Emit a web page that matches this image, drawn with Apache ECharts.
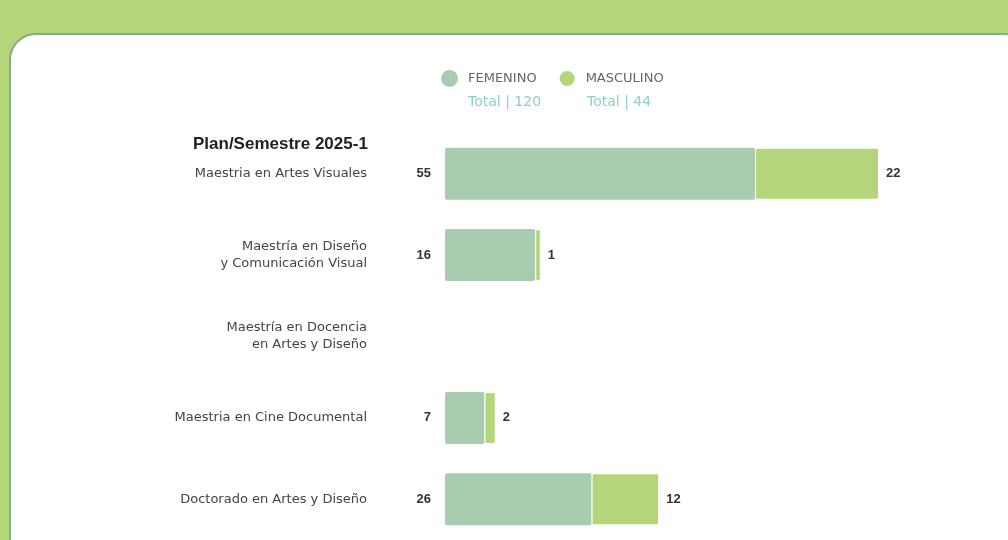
<!DOCTYPE html>
<html>
<head>
<meta charset="utf-8">
<script src="https://cdn.jsdelivr.net/npm/echarts@6/dist/echarts.min.js"></script>
<style>
  * { margin: 0; padding: 0; }
  html, body { width: 1008px; height: 540px; overflow: hidden; }
  #chart { width: 1008px; height: 540px; }
</style>
</head>
<body>
<div id="chart"></div>
<script>
// datos por plan
const planes = [
  'Maestria en Artes Visuales',
  'Maestría en Diseño\ny Comunicación Visual',
  'Maestría en Docencia\nen Artes y Diseño',
  'Maestria en Cine Documental',
  'Doctorado en Artes y Diseño'
]
const femenino = [55, 16, 0, 7, 26]
const masculino = [22, 1, 0, 2, 12]
const seriesNames = ['FEMENINO', 'MASCULINO']
const totales = [120, 44]

const colorFem = '#a9cbb0'
const colorMasc = '#b5d57a'

const chart = echarts.init(document.getElementById('chart'))

const hideZero = p => (p.value ? p.value : '')

chart.setOption({
  backgroundColor: '#b6d47a',
  animation: false,
  graphic: [
    {
      type: 'rect',
      z: -10,
      shape: { x: 10, y: 34, width: 1020, height: 530, r: 26 },
      style: { fill: '#ffffff', stroke: '#7fae86', lineWidth: 2 }
    },
    {
      type: 'text',
      left: 193,
      top: 136,
      style: {
        text: 'Plan/Semestre 2025-1',
        font: 'bold 17px "Liberation Sans", Arial, sans-serif',
        fill: '#222'
      }
    },
    {
      type: 'text',
      left: 468,
      top: 95,
      style: {
        text: 'Total | ' + totales[0],
        font: '14px "DejaVu Sans", sans-serif',
        fill: '#8fd0c4'
      }
    },
    {
      type: 'text',
      left: 587,
      top: 95,
      style: {
        text: 'Total | ' + totales[1],
        font: '14px "DejaVu Sans", sans-serif',
        fill: '#8fd0c4'
      }
    }
  ],
  legend: {
    data: seriesNames,
    left: 436,
    top: 64,
    icon: 'circle',
    itemWidth: 17,
    itemHeight: 17,
    itemGap: 21,
    selectedMode: false,
    textStyle: {
      color: '#666',
      fontFamily: '"DejaVu Sans", sans-serif',
      fontSize: 13,
      padding: [0, 0, 0, 5]
    }
  },
  grid: {
    left: 445,
    top: 133,
    width: 451,
    height: 410
  },
  xAxis: {
    type: 'value',
    min: 0,
    max: 80,
    show: false
  },
  yAxis: {
    type: 'category',
    data: planes,
    inverse: true,
    axisLine: { show: false },
    axisTick: { show: false },
    splitLine: { show: false },
    axisLabel: {
      margin: 78,
      color: '#444',
      fontSize: 13,
      lineHeight: 17,
      fontFamily: '"DejaVu Sans", sans-serif',
      align: 'right'
    }
  },
  series: [
    {
      name: seriesNames[0],
      type: 'bar',
      stack: 'total',
      barWidth: 52,
      data: femenino,
      itemStyle: { color: colorFem, borderRadius: 2 },
      label: {
        show: true,
        position: 'left',
        distance: 14,
        color: '#333',
        fontWeight: 'bold',
        fontSize: 13,
        fontFamily: '"Liberation Sans", Arial, sans-serif',
        formatter: hideZero
      }
    },
    {
      name: seriesNames[1],
      type: 'bar',
      stack: 'total',
      barWidth: 52,
      data: masculino,
      itemStyle: { color: colorMasc, borderRadius: 2, borderColor: '#fff', borderWidth: 1 },
      label: {
        show: true,
        position: 'right',
        distance: 7,
        color: '#333',
        fontWeight: 'bold',
        fontSize: 13,
        fontFamily: '"Liberation Sans", Arial, sans-serif',
        formatter: hideZero
      }
    }
  ]
})
</script>
</body>
</html>
